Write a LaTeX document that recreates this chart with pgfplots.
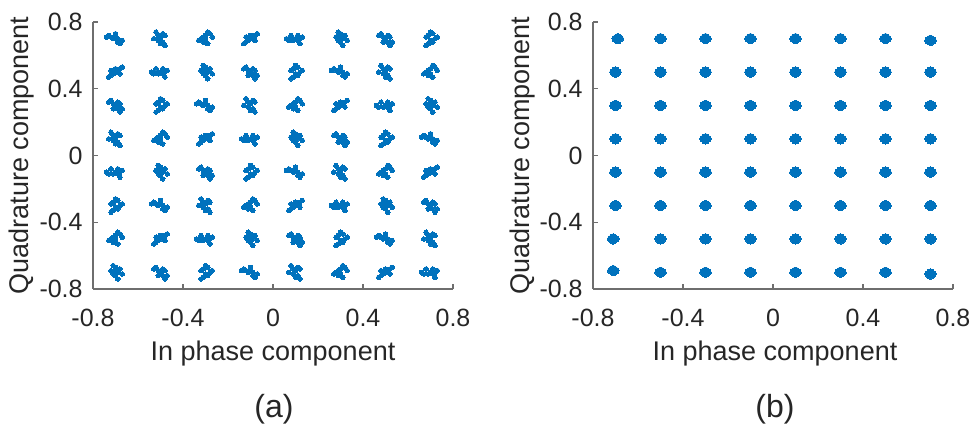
\documentclass[border=0pt]{standalone}
\usepackage{fontspec}
\setmainfont{Liberation Sans}
\usepackage{pgfplots}
\pgfplotsset{compat=1.18}
\definecolor{mblue}{RGB}{0,114,189}
\definecolor{axgray}{RGB}{110,110,110}
\definecolor{txt}{RGB}{38,38,38}
\pgfplotsset{qam/.style={
  scale only axis, width=180pt, height=133.5pt,
  xmin=-0.8,xmax=0.8,ymin=-0.8,ymax=0.8,
  axis lines*=left,
  axis line style={axgray, line width=0.6pt},
  tick align=inside,
  major tick length=2.5pt,
  tick style={axgray, line width=0.6pt},
  xtick={-0.8,-0.4,0,0.4,0.8}, ytick={-0.8,-0.4,0,0.4,0.8},
  xticklabels={-0.8,-0.4,0,0.4,0.8}, yticklabels={-0.8,-0.4,0,0.4,0.8},
  ticklabel style={font=\fontsize{12.5}{14}\selectfont, text=txt},
  xticklabel style={anchor=north, inner sep=0pt, yshift=-10pt},
  yticklabel style={anchor=east, inner sep=0pt, xshift=-5pt},
  clip=false,
}}
\begin{document}
\begin{tikzpicture}
\begin{axis}[qam, at={(0pt,0pt)}, anchor=south west]
\addplot[only marks, mark=*, mark size=1.15pt, mark options={fill=mblue, draw=mblue, line width=0pt}] coordinates {
(-0.74,0.71) (-0.73,0.72) (-0.72,0.71) (-0.71,0.70) (-0.70,0.71) (-0.69,0.70) (-0.69,0.68) (-0.68,0.67) (-0.67,0.69) (-0.70,0.73)
(-0.52,0.74) (-0.51,0.72) (-0.50,0.71) (-0.49,0.73) (-0.48,0.72) (-0.51,0.69) (-0.49,0.68) (-0.48,0.66) (-0.53,0.70) (-0.50,0.67)
(-0.33,0.69) (-0.32,0.70) (-0.31,0.71) (-0.30,0.72) (-0.29,0.74) (-0.28,0.73) (-0.30,0.69) (-0.29,0.67) (-0.31,0.68) (-0.27,0.71)
(-0.13,0.67) (-0.12,0.68) (-0.11,0.69) (-0.10,0.70) (-0.09,0.71) (-0.08,0.72) (-0.07,0.73) (-0.10,0.72) (-0.08,0.69) (-0.12,0.71)
(0.06,0.70) (0.07,0.69) (0.09,0.69) (0.10,0.70) (0.11,0.69) (0.12,0.70) (0.13,0.71) (0.11,0.72) (0.08,0.72) (0.12,0.67)
(0.29,0.74) (0.30,0.73) (0.30,0.71) (0.31,0.70) (0.29,0.69) (0.30,0.68) (0.31,0.66) (0.32,0.72) (0.28,0.71) (0.33,0.69)
(0.47,0.72) (0.48,0.73) (0.49,0.71) (0.51,0.72) (0.52,0.71) (0.50,0.70) (0.49,0.68) (0.51,0.68) (0.53,0.68) (0.52,0.66)
(0.68,0.66) (0.69,0.67) (0.70,0.69) (0.71,0.68) (0.72,0.70) (0.73,0.71) (0.68,0.71) (0.69,0.72) (0.70,0.74) (0.71,0.73)
(-0.73,0.47) (-0.72,0.48) (-0.71,0.49) (-0.70,0.50) (-0.69,0.51) (-0.68,0.52) (-0.67,0.53) (-0.70,0.52) (-0.68,0.49) (-0.72,0.51)
(-0.54,0.50) (-0.53,0.49) (-0.51,0.49) (-0.50,0.50) (-0.49,0.49) (-0.48,0.50) (-0.47,0.51) (-0.49,0.52) (-0.52,0.52) (-0.48,0.47)
(-0.31,0.54) (-0.30,0.53) (-0.30,0.51) (-0.29,0.50) (-0.31,0.49) (-0.30,0.48) (-0.29,0.46) (-0.28,0.52) (-0.32,0.51) (-0.27,0.49)
(-0.13,0.52) (-0.12,0.53) (-0.11,0.51) (-0.09,0.52) (-0.08,0.51) (-0.10,0.50) (-0.11,0.48) (-0.09,0.48) (-0.07,0.48) (-0.08,0.46)
(0.08,0.46) (0.09,0.47) (0.10,0.49) (0.11,0.48) (0.12,0.50) (0.13,0.51) (0.08,0.51) (0.09,0.52) (0.10,0.54) (0.11,0.53)
(0.26,0.51) (0.27,0.52) (0.28,0.51) (0.29,0.50) (0.30,0.51) (0.31,0.50) (0.31,0.48) (0.32,0.47) (0.33,0.49) (0.30,0.53)
(0.48,0.54) (0.49,0.52) (0.50,0.51) (0.51,0.53) (0.52,0.52) (0.49,0.49) (0.51,0.48) (0.52,0.46) (0.47,0.50) (0.50,0.47)
(0.67,0.49) (0.68,0.50) (0.69,0.51) (0.70,0.52) (0.71,0.54) (0.72,0.53) (0.70,0.49) (0.71,0.47) (0.69,0.48) (0.73,0.51)
(-0.73,0.32) (-0.72,0.33) (-0.71,0.31) (-0.69,0.32) (-0.68,0.31) (-0.70,0.30) (-0.71,0.28) (-0.69,0.28) (-0.67,0.28) (-0.68,0.26)
(-0.52,0.26) (-0.51,0.27) (-0.50,0.29) (-0.49,0.28) (-0.48,0.30) (-0.47,0.31) (-0.52,0.31) (-0.51,0.32) (-0.50,0.34) (-0.49,0.33)
(-0.34,0.31) (-0.33,0.32) (-0.32,0.31) (-0.31,0.30) (-0.30,0.31) (-0.29,0.30) (-0.29,0.28) (-0.28,0.27) (-0.27,0.29) (-0.30,0.33)
(-0.12,0.34) (-0.11,0.32) (-0.10,0.31) (-0.09,0.33) (-0.08,0.32) (-0.11,0.29) (-0.09,0.28) (-0.08,0.26) (-0.13,0.30) (-0.10,0.27)
(0.07,0.29) (0.08,0.30) (0.09,0.31) (0.10,0.32) (0.11,0.34) (0.12,0.33) (0.10,0.29) (0.11,0.27) (0.09,0.28) (0.13,0.31)
(0.27,0.27) (0.28,0.28) (0.29,0.29) (0.30,0.30) (0.31,0.31) (0.32,0.32) (0.33,0.33) (0.30,0.32) (0.32,0.29) (0.28,0.31)
(0.46,0.30) (0.47,0.29) (0.49,0.29) (0.50,0.30) (0.51,0.29) (0.52,0.30) (0.53,0.31) (0.51,0.32) (0.48,0.32) (0.52,0.27)
(0.69,0.34) (0.70,0.33) (0.70,0.31) (0.71,0.30) (0.69,0.29) (0.70,0.28) (0.71,0.26) (0.72,0.32) (0.68,0.31) (0.73,0.29)
(-0.72,0.14) (-0.71,0.12) (-0.70,0.11) (-0.69,0.13) (-0.68,0.12) (-0.71,0.09) (-0.69,0.08) (-0.68,0.06) (-0.73,0.10) (-0.70,0.07)
(-0.53,0.09) (-0.52,0.10) (-0.51,0.11) (-0.50,0.12) (-0.49,0.14) (-0.48,0.13) (-0.50,0.09) (-0.49,0.07) (-0.51,0.08) (-0.47,0.11)
(-0.33,0.07) (-0.32,0.08) (-0.31,0.09) (-0.30,0.10) (-0.29,0.11) (-0.28,0.12) (-0.27,0.13) (-0.30,0.12) (-0.28,0.09) (-0.32,0.11)
(-0.14,0.10) (-0.13,0.09) (-0.11,0.09) (-0.10,0.10) (-0.09,0.09) (-0.08,0.10) (-0.07,0.11) (-0.09,0.12) (-0.12,0.12) (-0.08,0.07)
(0.09,0.14) (0.10,0.13) (0.10,0.11) (0.11,0.10) (0.09,0.09) (0.10,0.08) (0.11,0.06) (0.12,0.12) (0.08,0.11) (0.13,0.09)
(0.27,0.12) (0.28,0.13) (0.29,0.11) (0.31,0.12) (0.32,0.11) (0.30,0.10) (0.29,0.08) (0.31,0.08) (0.33,0.08) (0.32,0.06)
(0.48,0.06) (0.49,0.07) (0.50,0.09) (0.51,0.08) (0.52,0.10) (0.53,0.11) (0.48,0.11) (0.49,0.12) (0.50,0.14) (0.51,0.13)
(0.66,0.11) (0.67,0.12) (0.68,0.11) (0.69,0.10) (0.70,0.11) (0.71,0.10) (0.71,0.08) (0.72,0.07) (0.73,0.09) (0.70,0.13)
(-0.74,-0.10) (-0.73,-0.11) (-0.71,-0.11) (-0.70,-0.10) (-0.69,-0.11) (-0.68,-0.10) (-0.67,-0.09) (-0.69,-0.08) (-0.72,-0.08) (-0.68,-0.13)
(-0.51,-0.06) (-0.50,-0.07) (-0.50,-0.09) (-0.49,-0.10) (-0.51,-0.11) (-0.50,-0.12) (-0.49,-0.14) (-0.48,-0.08) (-0.52,-0.09) (-0.47,-0.11)
(-0.33,-0.08) (-0.32,-0.07) (-0.31,-0.09) (-0.29,-0.08) (-0.28,-0.09) (-0.30,-0.10) (-0.31,-0.12) (-0.29,-0.12) (-0.27,-0.12) (-0.28,-0.14)
(-0.12,-0.14) (-0.11,-0.13) (-0.10,-0.11) (-0.09,-0.12) (-0.08,-0.10) (-0.07,-0.09) (-0.12,-0.09) (-0.11,-0.08) (-0.10,-0.06) (-0.09,-0.07)
(0.06,-0.09) (0.07,-0.08) (0.08,-0.09) (0.09,-0.10) (0.10,-0.09) (0.11,-0.10) (0.11,-0.12) (0.12,-0.13) (0.13,-0.11) (0.10,-0.07)
(0.28,-0.06) (0.29,-0.08) (0.30,-0.09) (0.31,-0.07) (0.32,-0.08) (0.29,-0.11) (0.31,-0.12) (0.32,-0.14) (0.27,-0.10) (0.30,-0.13)
(0.47,-0.11) (0.48,-0.10) (0.49,-0.09) (0.50,-0.08) (0.51,-0.06) (0.52,-0.07) (0.50,-0.11) (0.51,-0.13) (0.49,-0.12) (0.53,-0.09)
(0.67,-0.13) (0.68,-0.12) (0.69,-0.11) (0.70,-0.10) (0.71,-0.09) (0.72,-0.08) (0.73,-0.07) (0.70,-0.08) (0.72,-0.11) (0.68,-0.09)
(-0.72,-0.34) (-0.71,-0.33) (-0.70,-0.31) (-0.69,-0.32) (-0.68,-0.30) (-0.67,-0.29) (-0.72,-0.29) (-0.71,-0.28) (-0.70,-0.26) (-0.69,-0.27)
(-0.54,-0.29) (-0.53,-0.28) (-0.52,-0.29) (-0.51,-0.30) (-0.50,-0.29) (-0.49,-0.30) (-0.49,-0.32) (-0.48,-0.33) (-0.47,-0.31) (-0.50,-0.27)
(-0.32,-0.26) (-0.31,-0.28) (-0.30,-0.29) (-0.29,-0.27) (-0.28,-0.28) (-0.31,-0.31) (-0.29,-0.32) (-0.28,-0.34) (-0.33,-0.30) (-0.30,-0.33)
(-0.13,-0.31) (-0.12,-0.30) (-0.11,-0.29) (-0.10,-0.28) (-0.09,-0.26) (-0.08,-0.27) (-0.10,-0.31) (-0.09,-0.33) (-0.11,-0.32) (-0.07,-0.29)
(0.07,-0.33) (0.08,-0.32) (0.09,-0.31) (0.10,-0.30) (0.11,-0.29) (0.12,-0.28) (0.13,-0.27) (0.10,-0.28) (0.12,-0.31) (0.08,-0.29)
(0.26,-0.30) (0.27,-0.31) (0.29,-0.31) (0.30,-0.30) (0.31,-0.31) (0.32,-0.30) (0.33,-0.29) (0.31,-0.28) (0.28,-0.28) (0.32,-0.33)
(0.49,-0.26) (0.50,-0.27) (0.50,-0.29) (0.51,-0.30) (0.49,-0.31) (0.50,-0.32) (0.51,-0.34) (0.52,-0.28) (0.48,-0.29) (0.53,-0.31)
(0.67,-0.28) (0.68,-0.27) (0.69,-0.29) (0.71,-0.28) (0.72,-0.29) (0.70,-0.30) (0.69,-0.32) (0.71,-0.32) (0.73,-0.32) (0.72,-0.34)
(-0.73,-0.51) (-0.72,-0.50) (-0.71,-0.49) (-0.70,-0.48) (-0.69,-0.46) (-0.68,-0.47) (-0.70,-0.51) (-0.69,-0.53) (-0.71,-0.52) (-0.67,-0.49)
(-0.53,-0.53) (-0.52,-0.52) (-0.51,-0.51) (-0.50,-0.50) (-0.49,-0.49) (-0.48,-0.48) (-0.47,-0.47) (-0.50,-0.48) (-0.48,-0.51) (-0.52,-0.49)
(-0.34,-0.50) (-0.33,-0.51) (-0.31,-0.51) (-0.30,-0.50) (-0.29,-0.51) (-0.28,-0.50) (-0.27,-0.49) (-0.29,-0.48) (-0.32,-0.48) (-0.28,-0.53)
(-0.11,-0.46) (-0.10,-0.47) (-0.10,-0.49) (-0.09,-0.50) (-0.11,-0.51) (-0.10,-0.52) (-0.09,-0.54) (-0.08,-0.48) (-0.12,-0.49) (-0.07,-0.51)
(0.07,-0.48) (0.08,-0.47) (0.09,-0.49) (0.11,-0.48) (0.12,-0.49) (0.10,-0.50) (0.09,-0.52) (0.11,-0.52) (0.13,-0.52) (0.12,-0.54)
(0.28,-0.54) (0.29,-0.53) (0.30,-0.51) (0.31,-0.52) (0.32,-0.50) (0.33,-0.49) (0.28,-0.49) (0.29,-0.48) (0.30,-0.46) (0.31,-0.47)
(0.46,-0.49) (0.47,-0.48) (0.48,-0.49) (0.49,-0.50) (0.50,-0.49) (0.51,-0.50) (0.51,-0.52) (0.52,-0.53) (0.53,-0.51) (0.50,-0.47)
(0.68,-0.46) (0.69,-0.48) (0.70,-0.49) (0.71,-0.47) (0.72,-0.48) (0.69,-0.51) (0.71,-0.52) (0.72,-0.54) (0.67,-0.50) (0.70,-0.53)
(-0.71,-0.66) (-0.70,-0.67) (-0.70,-0.69) (-0.69,-0.70) (-0.71,-0.71) (-0.70,-0.72) (-0.69,-0.74) (-0.68,-0.68) (-0.72,-0.69) (-0.67,-0.71)
(-0.53,-0.68) (-0.52,-0.67) (-0.51,-0.69) (-0.49,-0.68) (-0.48,-0.69) (-0.50,-0.70) (-0.51,-0.72) (-0.49,-0.72) (-0.47,-0.72) (-0.48,-0.74)
(-0.32,-0.74) (-0.31,-0.73) (-0.30,-0.71) (-0.29,-0.72) (-0.28,-0.70) (-0.27,-0.69) (-0.32,-0.69) (-0.31,-0.68) (-0.30,-0.66) (-0.29,-0.67)
(-0.14,-0.69) (-0.13,-0.68) (-0.12,-0.69) (-0.11,-0.70) (-0.10,-0.69) (-0.09,-0.70) (-0.09,-0.72) (-0.08,-0.73) (-0.07,-0.71) (-0.10,-0.67)
(0.08,-0.66) (0.09,-0.68) (0.10,-0.69) (0.11,-0.67) (0.12,-0.68) (0.09,-0.71) (0.11,-0.72) (0.12,-0.74) (0.07,-0.70) (0.10,-0.73)
(0.27,-0.71) (0.28,-0.70) (0.29,-0.69) (0.30,-0.68) (0.31,-0.66) (0.32,-0.67) (0.30,-0.71) (0.31,-0.73) (0.29,-0.72) (0.33,-0.69)
(0.47,-0.73) (0.48,-0.72) (0.49,-0.71) (0.50,-0.70) (0.51,-0.69) (0.52,-0.68) (0.53,-0.67) (0.50,-0.68) (0.52,-0.71) (0.48,-0.69)
(0.66,-0.70) (0.67,-0.71) (0.69,-0.71) (0.70,-0.70) (0.71,-0.71) (0.72,-0.70) (0.73,-0.69) (0.71,-0.68) (0.68,-0.68) (0.72,-0.73)
};
\end{axis}
\begin{axis}[qam, at={(250pt,0pt)}, anchor=south west]
\addplot[only marks, mark=*, mark size=1.8pt, mark options={fill=mblue, draw=mblue, line width=0pt}] coordinates {
(-0.70,0.70) (-0.68,0.70) (-0.69,0.71) (-0.69,0.69)
(-0.51,0.70) (-0.49,0.70) (-0.50,0.71) (-0.50,0.69)
(-0.31,0.70) (-0.29,0.70) (-0.30,0.71) (-0.30,0.69)
(-0.11,0.70) (-0.09,0.70) (-0.10,0.71) (-0.10,0.69)
(0.09,0.70) (0.11,0.70) (0.10,0.71) (0.10,0.69)
(0.29,0.70) (0.31,0.70) (0.30,0.71) (0.30,0.69)
(0.49,0.70) (0.51,0.70) (0.50,0.71) (0.50,0.69)
(0.69,0.69) (0.71,0.69) (0.70,0.70) (0.70,0.68)
(-0.71,0.50) (-0.69,0.50) (-0.70,0.51) (-0.70,0.49)
(-0.51,0.50) (-0.49,0.50) (-0.50,0.51) (-0.50,0.49)
(-0.31,0.50) (-0.29,0.50) (-0.30,0.51) (-0.30,0.49)
(-0.11,0.50) (-0.09,0.50) (-0.10,0.51) (-0.10,0.49)
(0.09,0.50) (0.11,0.50) (0.10,0.51) (0.10,0.49)
(0.29,0.50) (0.31,0.50) (0.30,0.51) (0.30,0.49)
(0.49,0.50) (0.51,0.50) (0.50,0.51) (0.50,0.49)
(0.69,0.50) (0.71,0.50) (0.70,0.51) (0.70,0.49)
(-0.71,0.30) (-0.69,0.30) (-0.70,0.31) (-0.70,0.29)
(-0.51,0.30) (-0.49,0.30) (-0.50,0.31) (-0.50,0.29)
(-0.31,0.30) (-0.29,0.30) (-0.30,0.31) (-0.30,0.29)
(-0.11,0.30) (-0.09,0.30) (-0.10,0.31) (-0.10,0.29)
(0.09,0.30) (0.11,0.30) (0.10,0.31) (0.10,0.29)
(0.29,0.30) (0.31,0.30) (0.30,0.31) (0.30,0.29)
(0.49,0.30) (0.51,0.30) (0.50,0.31) (0.50,0.29)
(0.69,0.30) (0.71,0.30) (0.70,0.31) (0.70,0.29)
(-0.71,0.10) (-0.69,0.10) (-0.70,0.11) (-0.70,0.09)
(-0.51,0.10) (-0.49,0.10) (-0.50,0.11) (-0.50,0.09)
(-0.31,0.10) (-0.29,0.10) (-0.30,0.11) (-0.30,0.09)
(-0.11,0.10) (-0.09,0.10) (-0.10,0.11) (-0.10,0.09)
(0.09,0.10) (0.11,0.10) (0.10,0.11) (0.10,0.09)
(0.29,0.10) (0.31,0.10) (0.30,0.11) (0.30,0.09)
(0.49,0.10) (0.51,0.10) (0.50,0.11) (0.50,0.09)
(0.69,0.10) (0.71,0.10) (0.70,0.11) (0.70,0.09)
(-0.71,-0.10) (-0.69,-0.10) (-0.70,-0.09) (-0.70,-0.11)
(-0.51,-0.10) (-0.49,-0.10) (-0.50,-0.09) (-0.50,-0.11)
(-0.31,-0.10) (-0.29,-0.10) (-0.30,-0.09) (-0.30,-0.11)
(-0.11,-0.10) (-0.09,-0.10) (-0.10,-0.09) (-0.10,-0.11)
(0.09,-0.10) (0.11,-0.10) (0.10,-0.09) (0.10,-0.11)
(0.29,-0.10) (0.31,-0.10) (0.30,-0.09) (0.30,-0.11)
(0.49,-0.10) (0.51,-0.10) (0.50,-0.09) (0.50,-0.11)
(0.69,-0.10) (0.71,-0.10) (0.70,-0.09) (0.70,-0.11)
(-0.71,-0.30) (-0.69,-0.30) (-0.70,-0.29) (-0.70,-0.31)
(-0.51,-0.30) (-0.49,-0.30) (-0.50,-0.29) (-0.50,-0.31)
(-0.31,-0.30) (-0.29,-0.30) (-0.30,-0.29) (-0.30,-0.31)
(-0.11,-0.30) (-0.09,-0.30) (-0.10,-0.29) (-0.10,-0.31)
(0.09,-0.30) (0.11,-0.30) (0.10,-0.29) (0.10,-0.31)
(0.29,-0.30) (0.31,-0.30) (0.30,-0.29) (0.30,-0.31)
(0.49,-0.30) (0.51,-0.30) (0.50,-0.29) (0.50,-0.31)
(0.69,-0.30) (0.71,-0.30) (0.70,-0.29) (0.70,-0.31)
(-0.72,-0.50) (-0.70,-0.50) (-0.71,-0.49) (-0.71,-0.51)
(-0.51,-0.50) (-0.49,-0.50) (-0.50,-0.49) (-0.50,-0.51)
(-0.31,-0.50) (-0.29,-0.50) (-0.30,-0.49) (-0.30,-0.51)
(-0.11,-0.50) (-0.09,-0.50) (-0.10,-0.49) (-0.10,-0.51)
(0.09,-0.50) (0.11,-0.50) (0.10,-0.49) (0.10,-0.51)
(0.29,-0.50) (0.31,-0.50) (0.30,-0.49) (0.30,-0.51)
(0.49,-0.50) (0.51,-0.50) (0.50,-0.49) (0.50,-0.51)
(0.69,-0.50) (0.71,-0.50) (0.70,-0.49) (0.70,-0.51)
(-0.72,-0.69) (-0.70,-0.69) (-0.71,-0.68) (-0.71,-0.70)
(-0.51,-0.70) (-0.49,-0.70) (-0.50,-0.69) (-0.50,-0.71)
(-0.31,-0.70) (-0.29,-0.70) (-0.30,-0.69) (-0.30,-0.71)
(-0.11,-0.70) (-0.09,-0.70) (-0.10,-0.69) (-0.10,-0.71)
(0.09,-0.70) (0.11,-0.70) (0.10,-0.69) (0.10,-0.71)
(0.29,-0.70) (0.31,-0.70) (0.30,-0.69) (0.30,-0.71)
(0.49,-0.70) (0.51,-0.70) (0.50,-0.69) (0.50,-0.71)
(0.69,-0.71) (0.71,-0.71) (0.70,-0.70) (0.70,-0.72)
};
\end{axis}
\begin{scope}[font=\fontsize{13.5}{16}\selectfont, text=txt]
\node[rotate=90, anchor=base, inner sep=0pt] at (-32pt,66.75pt) {Quadrature component};
\node[anchor=base, inner sep=0pt] at (90pt,-36pt) {In phase component};
\node[rotate=90, anchor=base, inner sep=0pt] at (218pt,66.75pt) {Quadrature component};
\node[anchor=base, inner sep=0pt] at (341pt,-36pt) {In phase component};
\end{scope}
\node[anchor=base, inner sep=0pt, font=\fontsize{16}{18}\selectfont, text=txt] at (90.5pt,-64.5pt) {(a)};
\node[anchor=base, inner sep=0pt, font=\fontsize{16}{18}\selectfont, text=txt] at (341pt,-64.5pt) {(b)};
\pgfresetboundingbox
\path[use as bounding box] (-46.5pt,-72pt) rectangle (441.5pt,144.5pt);
\end{tikzpicture}
\end{document}
